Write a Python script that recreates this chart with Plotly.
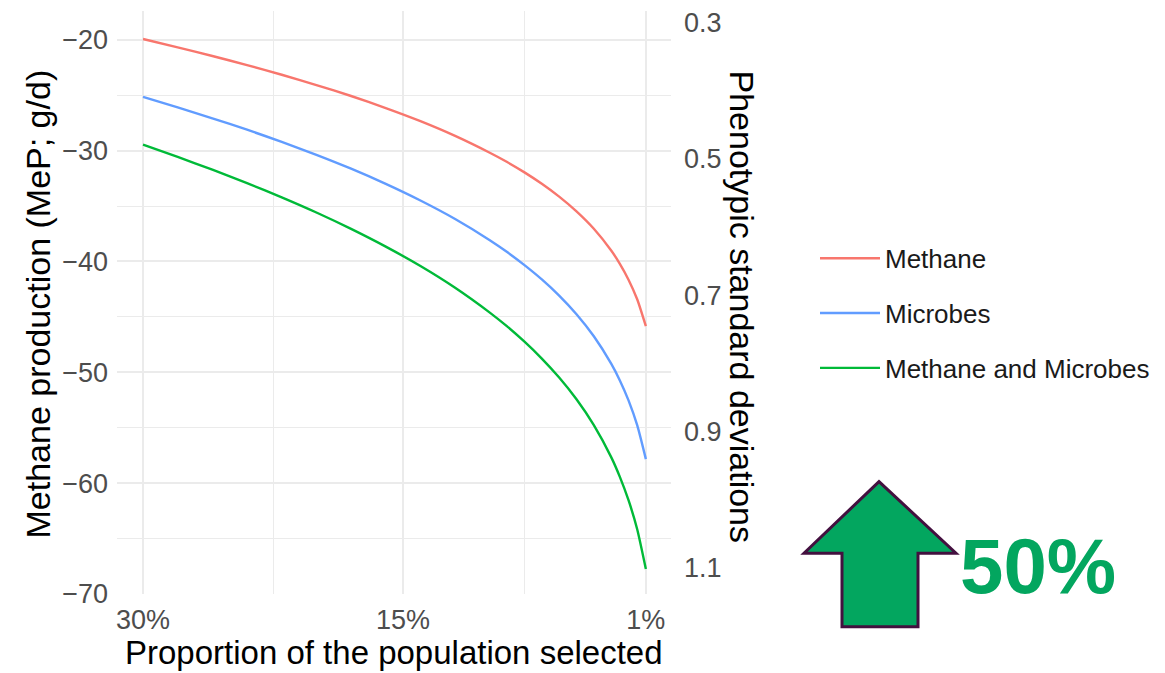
import plotly.graph_objects as go

# ---- data ----
proportion_pct = [30, 28, 26, 24, 22, 20, 18, 16, 14, 12, 10, 9, 8, 7, 6, 5, 4, 3, 2.5, 2, 1.5, 1]
methane = [-19.93, -20.68, -21.46, -22.28, -23.15, -24.08, -25.07, -26.16, -27.34, -28.67,
           -30.19, -31.03, -31.96, -32.99, -34.15, -35.48, -37.05, -39.01, -40.21, -41.64, -43.41, -45.84]
microbes = [-25.15, -26.09, -27.08, -28.11, -29.21, -30.38, -31.63, -33.00, -34.50, -36.17,
            -38.08, -39.15, -40.33, -41.62, -43.08, -44.76, -46.75, -49.22, -50.73, -52.53, -54.77, -57.83]
methane_microbes = [-29.46, -30.56, -31.72, -32.93, -34.21, -35.58, -37.06, -38.66, -40.41, -42.37,
                    -44.61, -45.86, -47.24, -48.76, -50.47, -52.43, -54.76, -57.65, -59.43, -61.54, -64.16, -67.75]
series_names = ["Methane", "Microbes", "Methane and Microbes"]
series_colors = ["#F8766D", "#619CFF", "#00BA38"]

x_tick_vals = [30, 15, 1]
x_tick_text = ["30%", "15%", "1%"]
y_tick_vals = [-20, -30, -40, -50, -60, -70]
sd_tick_vals = [0.3, 0.5, 0.7, 0.9, 1.1]
sd_tick_text = ["0.3", "0.5", "0.7", "0.9", "1.1"]
g_per_sd = 61.5   # MeP (g/d) per phenotypic SD for the secondary axis

# ---- layout geometry ----
W, H = 1165, 673
L, R, T, B = 117, 494, 8, 79
PW, PH = W - L - R, H - T - B

def px(x):
    return (x - L) / PW

def py(y):
    return (H - B - y) / PH

FONT = "Liberation Sans, Arial, sans-serif"

fig = go.Figure()
for name, vals, col in zip(series_names, [methane, microbes, methane_microbes], series_colors):
    fig.add_trace(go.Scatter(x=proportion_pct, y=vals, mode="lines", name=name,
                             legendgroup=name,
                             line=dict(color=col, width=2.4, shape="spline", smoothing=0.6)))

# invisible trace to activate the secondary axis
fig.add_trace(go.Scatter(x=[proportion_pct[0]], y=[-methane[0] / g_per_sd], yaxis="y2",
                         mode="markers", marker=dict(opacity=0), showlegend=False, hoverinfo="skip"))

y_lo, y_hi = -70, -17.4
fig.update_layout(
    width=W, height=H,
    margin=dict(l=L, r=R, t=T, b=B),
    paper_bgcolor="white", plot_bgcolor="white",
    font=dict(family=FONT, color="#4D4D4D"),
    xaxis=dict(range=[31.5, -0.45], tickvals=x_tick_vals, ticktext=x_tick_text,
               showgrid=True, gridcolor="#EBEBEB", gridwidth=2, zeroline=False,
               showline=False, ticks="", tickfont=dict(size=27, color="#4D4D4D"),
               ticklabelstandoff=7,
               minor=dict(tickvals=[22.5, 8], showgrid=True, gridcolor="#EBEBEB", gridwidth=1.3)),
    yaxis=dict(range=[y_lo, y_hi], tickvals=y_tick_vals,
               showgrid=True, gridcolor="#EBEBEB", gridwidth=2, zeroline=False,
               showline=False, ticks="", tickfont=dict(size=27, color="#4D4D4D"),
               ticklabelstandoff=8,
               minor=dict(dtick=5, tick0=-70, showgrid=True, gridcolor="#EBEBEB", gridwidth=1.3)),
    yaxis2=dict(overlaying="y", side="right", range=[-y_lo / g_per_sd, -y_hi / g_per_sd],
                tickvals=sd_tick_vals, ticktext=sd_tick_text, showgrid=False, zeroline=False,
                showline=False, ticks="", tickfont=dict(size=27, color="#4D4D4D"),
                ticklabelstandoff=12),
    legend=dict(x=px(815), y=py(233), xanchor="left", yanchor="top",
                font=dict(size=26, color="#1A1A1A", family=FONT),
                tracegroupgap=18, itemwidth=60, bgcolor="rgba(0,0,0,0)"),
    showlegend=True,
)

# axis titles
fig.add_annotation(text="Methane production (MeP; g/d)", xref="paper", yref="paper",
                   x=px(38), y=py(303), xanchor="center", yanchor="middle",
                   textangle=-90, showarrow=False,
                   font=dict(size=34, color="black", family=FONT))
fig.add_annotation(text="Phenotypic standard deviations", xref="paper", yref="paper",
                   x=px(742), y=py(305), xanchor="center", yanchor="middle",
                   textangle=90, showarrow=False,
                   font=dict(size=34, color="black", family=FONT))
fig.add_annotation(text="Proportion of the population selected", xref="paper", yref="paper",
                   x=px(394), y=py(653), xanchor="center", yanchor="middle", showarrow=False,
                   font=dict(size=33, color="black", family=FONT))

# green arrow
arrow_pts = [(879, 481), (804, 553), (842, 553), (842, 627), (918, 627), (918, 553), (956, 553)]
path = "M " + " L ".join(f"{px(a):.5f},{py(b):.5f}" for a, b in arrow_pts) + " Z"
fig.add_shape(type="path", path=path, xref="paper", yref="paper",
              fillcolor="#03A65F", line=dict(color="#43103F", width=3))
fig.add_annotation(text="<b>50%</b>", xref="paper", yref="paper", x=px(1038), y=py(566),
                   xanchor="center", yanchor="middle",
                   showarrow=False, font=dict(size=78, color="#03A65F", family=FONT))

fig.write_html("out.html", config={"displayModeBar": False},
               post_script="document.body.style.margin='0px';")
